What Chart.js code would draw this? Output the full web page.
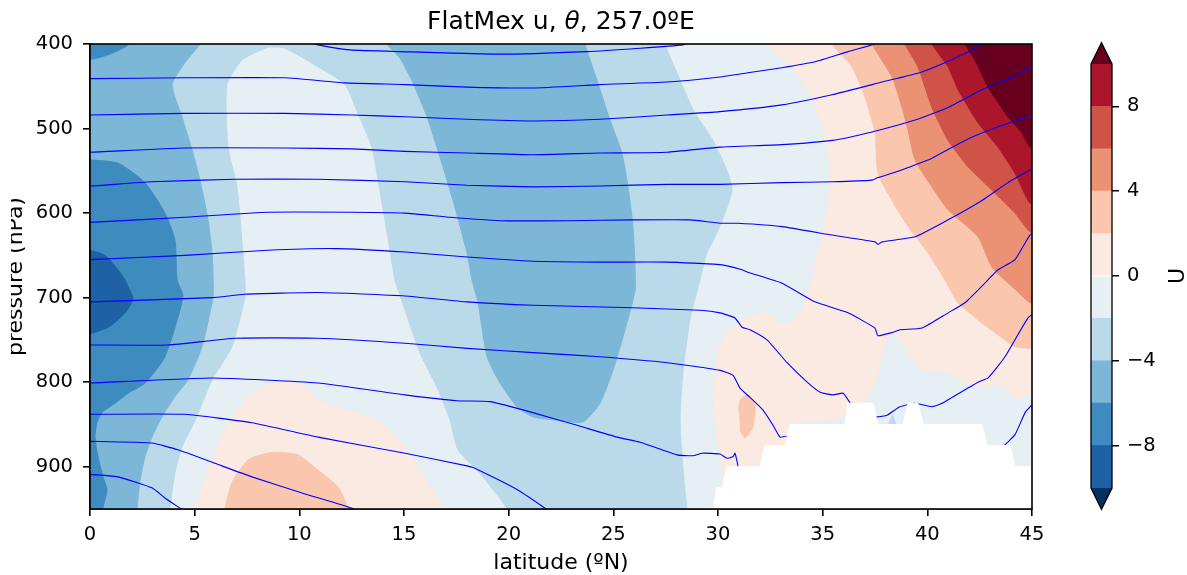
<!DOCTYPE html>
<html>
<head>
<meta charset="utf-8">
<script src="https://cdn.jsdelivr.net/npm/chart.js@4.4.0/dist/chart.umd.min.js"></script>
<style>
  body { margin: 0; background: #fff; }
  #main { position: absolute; left: 0; top: 0; }
  #cbar { position: absolute; left: 1060px; top: 0; }
</style>
</head>
<body>
<canvas id="main" width="1060" height="575"></canvas>
<canvas id="cbar" width="127" height="575"></canvas>
<script>
// axes
var latTicks = [0, 5, 10, 15, 20, 25, 30, 35, 40, 45];
var presTicks = [400, 500, 600, 700, 800, 900];
var cbarTicks = [-8, -4, 0, 4, 8];
var titleParts = ['FlatMex u, ', '\u03b8', ', 257.0\u00baE'];
var xLabel = 'latitude (\u00baN)';
var yLabel = 'pressure (hPa)';
var cbarLabel = 'U';

// u levels, RdBu_r with both ends extended
var uLevels = [-10, -8, -6, -4, -2, 0, 2, 4, 6, 8, 10];
var uColors = ['#053061', '#1e61a5', '#3d8bbf', '#7cb7d7', '#bad9e9', '#e6eff4',
               '#faeae1', '#fac7ae', '#ec9274', '#cf5347', '#ab162a', '#67001f'];

// filled contour outlines, [lat, hPa]
var uAll = [[-1, 388], [46, 388], [46, 962], [-1, 962]];
var uLtM2 = [[-1, 962], [-1, 388], [27.5, 388], [27.47, 400], [28.04, 434], [28.81, 478], [29.76, 514], [30.48, 553], [30.67, 573], [30.33, 600], [29.86, 628], [29.47, 647], [29.14, 679], [28.66, 726], [28.33, 786], [28.19, 845], [28.33, 904], [28.52, 950], [28.55, 962],
  [19.95, 962], [19.92, 950], [19.25, 927], [18.49, 904], [17.58, 880], [17.2, 845], [16.58, 806], [15.76, 765], [14.81, 697], [14.57, 679], [14.09, 608], [13.76, 561], [13.47, 522], [12.8, 482], [12.18, 448], [10.89, 427], [9.32, 405], [8.5, 404], [7.26, 419], [6.54, 448], [6.59, 522], [7.02, 569], [7.4, 679], [7.4, 699], [6.78, 758], [5.83, 797], [5.02, 845], [4.39, 877], [4.06, 907], [3.82, 949], [3.8, 962]];
var uLtM4a = [[-1, 388], [5.3, 388], [5.25, 400], [4.54, 422], [3.92, 448], [4.39, 486], [4.87, 525], [5.25, 561], [5.64, 608], [5.83, 647], [5.88, 679], [5.88, 699], [5.35, 758], [4.68, 797], [4.06, 817], [3.44, 841], [2.96, 865], [2.63, 888], [2.39, 916], [2.25, 949], [2.24, 962], [-1, 962]];
var uLtM4b = [[14.1, 388], [14.19, 400], [14.81, 417], [15.43, 446], [16.1, 486], [16.72, 534], [17.34, 585], [18.01, 647], [18.25, 679], [18.54, 706], [18.97, 770], [19.59, 801], [20.4, 829], [21.16, 841], [22.31, 845], [23.55, 847], [24.36, 825], [24.98, 786], [25.65, 730], [26.04, 691], [26.04, 667], [25.94, 616], [25.7, 569], [25.41, 529], [24.84, 490], [24.22, 443], [23.65, 400], [23.6, 388]];
var uLtM6a = [[-1, 388], [1.95, 388], [1.82, 401], [1.05, 411], [0.3, 417], [-1, 421]];
var uLtM6b = [[-1, 535], [0, 537], [1.34, 541], [2.63, 564], [3.58, 600], [4.06, 632], [4.16, 679], [4.44, 699], [3.58, 770], [2.63, 801], [1.82, 813], [1.19, 825], [0.57, 836], [0.33, 848], [0.24, 865], [0.38, 888], [0.62, 912], [0.81, 927], [0.62, 949], [0.6, 962], [-1, 962]];
var uLtM8 = [[-1, 640], [0, 644], [0.72, 650], [1.34, 667], [1.67, 679], [1.82, 687], [2.05, 700], [1.9, 710], [1.67, 718], [1.3, 727], [0.86, 735], [0.1, 742], [-1, 744]];
var uGt0a = [[5.0, 962], [5.02, 949], [5.64, 904], [6.45, 857], [7.26, 825], [8.22, 806], [8.98, 800], [10.13, 803], [10.89, 821], [12.18, 833], [13.47, 842], [14.43, 860], [15.05, 877], [15.76, 904], [16.86, 949], [16.9, 962]];
var uGt0b = [[32.2, 388], [32.25, 400], [33.53, 427], [34.49, 466], [35.11, 510], [35.35, 553], [35.21, 593], [34.78, 647], [34.49, 679], [34.16, 706], [33.68, 726], [33.06, 730], [32.25, 718], [31.43, 723], [30.67, 735], [30.3, 745], [30.0, 762], [29.76, 818], [29.95, 865], [30.24, 907], [30.33, 927], [30.4, 962], [33.9, 962],
  [33.92, 848], [34.4, 847], [35.21, 845], [35.83, 841], [36.64, 833], [37.12, 818], [37.4, 806], [37.74, 782], [37.88, 762], [38.07, 750], [38.12, 744], [38.55, 747], [39.08, 765], [39.75, 786], [40.99, 789], [41.8, 801], [42.61, 806], [43.38, 803], [43.85, 809], [44.33, 821], [44.9, 813], [45.5, 812], [46, 812], [46, 388]];
var uGt2a = [[6.45, 962], [6.45, 949], [6.78, 919], [7.55, 892], [8.69, 883], [9.94, 886], [10.89, 904], [11.85, 924], [12.32, 949], [12.35, 962]];
var uGt2b = [[31.0, 836], [31.05, 821], [31.43, 815], [31.77, 827], [31.67, 853], [31.29, 866], [31.05, 857]];
var uGt2c = [[35.4, 388], [35.45, 400], [36.4, 427], [37.02, 463], [37.5, 505], [37.64, 553], [38.31, 585], [39.08, 616], [40.03, 647], [40.84, 679], [41.47, 706], [42.61, 730], [43.71, 750], [44.19, 758], [44.9, 760], [45.5, 761], [46, 761], [46, 388]];
var uGt4 = [[37.3, 388], [37.36, 400], [38.31, 439], [38.79, 475], [39.08, 502], [39.41, 537], [40.22, 569], [40.99, 596], [42.42, 628], [43.09, 664], [44.19, 690], [44.9, 706], [45.5, 708], [46, 708], [46, 388]];
var uGt6 = [[38.9, 388], [38.93, 400], [39.55, 427], [40.22, 475], [40.99, 514], [41.94, 545], [43.09, 573], [44.19, 600], [44.9, 622], [45.5, 625], [46, 625], [46, 388]];
var uGt8 = [[40.2, 388], [40.22, 400], [40.99, 427], [41.47, 454], [42.42, 493], [43.38, 522], [44.19, 553], [44.9, 588], [45.5, 592], [46, 592], [46, 388]];
var uGt10 = [[41.8, 388], [41.8, 400], [42.28, 419], [42.9, 451], [43.85, 486], [44.52, 505], [44.9, 522], [45.5, 525], [46, 525], [46, 388]];
var uLtM2c = [[38.15, 850], [38.33, 839], [38.5, 850]];

// theta isolines, [lat, hPa]
var theta = [
  [[10.5, 398], [10.89, 401], [12.42, 407], [14.81, 409], [19.59, 412], [23.74, 409], [26.28, 405], [28.33, 401], [28.7, 398]],
  [[-0.5, 441], [0, 441], [4.54, 440], [9.32, 440], [12.18, 446], [15.05, 448], [18.01, 451], [21.16, 452], [24.36, 448], [27.57, 445], [30.1, 439], [31.43, 434], [33.06, 428], [34.63, 421], [36.21, 409], [37.5, 400], [37.8, 396]],
  [[-0.5, 484], [0, 484], [4.54, 482], [9.32, 482], [12.52, 484], [15.05, 486], [18.01, 489], [21.16, 491], [24.36, 489], [27.57, 484], [30.1, 480], [33.06, 472], [35.45, 460], [37.84, 445], [39.75, 433], [41.32, 417], [42.61, 401], [42.8, 397]],
  [[-0.5, 528], [0, 528], [4.54, 523], [9.32, 523], [12.52, 524], [15.05, 527], [18.01, 529], [21.16, 531], [24.36, 529], [27.57, 528], [30.1, 522], [33.06, 519], [35.45, 514], [37.36, 504], [39.41, 490], [40.99, 475], [42.61, 454], [43.71, 443], [44.9, 428], [45.4, 421]],
  [[-0.5, 568], [0, 568], [2.96, 563], [6.93, 560], [10.89, 560], [15.05, 563], [18.01, 567], [21.16, 569], [24.36, 568], [27.57, 566], [30.1, 566], [33.06, 564], [35.45, 563], [37.36, 561], [37.64, 558], [38.31, 553], [40.22, 535], [41.8, 514], [43.38, 498], [44.9, 485], [45.4, 481]],
  [[-0.5, 611], [0, 611], [4.54, 605], [8.5, 599], [12.52, 599], [15.05, 600], [17.2, 605], [19.59, 609], [22.79, 609], [25.94, 608], [28.66, 608], [30.1, 612], [30.96, 612], [33.06, 616], [35.45, 626], [37.5, 634], [37.64, 637], [37.84, 634], [39.41, 628], [40.99, 608], [42.61, 585], [43.85, 564], [44.9, 549], [45.4, 542]],
  [[-0.5, 655], [0, 655], [4.54, 650], [8.5, 644], [11.7, 642], [15.05, 646], [18.01, 652], [21.16, 657], [24.36, 658], [27.57, 658], [30.1, 661], [31.15, 667], [31.43, 670], [33.06, 683], [34.63, 705], [36.21, 718], [37.5, 736], [37.64, 745], [38.36, 741], [38.69, 738], [39.75, 736], [40.99, 718], [41.8, 706], [42.9, 679], [43.38, 667], [44.19, 655], [44.9, 626], [45.3, 618]],
  [[-0.5, 705], [0, 705], [5.83, 700], [7.4, 696], [10.89, 694], [15.05, 698], [18.01, 705], [21.16, 709], [25.94, 712], [29.14, 715], [30.1, 718], [30.81, 724], [31.15, 735], [31.53, 738], [32.34, 750], [33.3, 777], [34.26, 800], [34.88, 812], [35.5, 815], [35.98, 813], [36.3, 824], [36.6, 832], [37.02, 840], [37.6, 841], [38.08, 839], [38.69, 829], [39.41, 825], [40.22, 829], [40.7, 825], [41.18, 818], [42.42, 800], [42.9, 795], [43.71, 770], [44.81, 724], [45.3, 715]],
  [[-0.5, 756], [0, 756], [3.73, 756], [6.93, 748], [10.89, 748], [15.05, 754], [18.01, 760], [21.16, 765], [24.36, 770], [27.57, 777], [30.1, 786], [30.72, 792], [31.05, 807], [31.53, 818], [32.15, 833], [32.63, 851], [32.96, 865], [33.3, 864], [34, 900], [42, 900], [43.4, 885], [43.71, 874], [44.19, 862], [44.67, 836], [45, 827], [45.4, 818]],
  [[-0.5, 801], [0, 801], [5.83, 795], [10.89, 801], [15.05, 815], [17.53, 822], [19.11, 823], [21.16, 836], [23.27, 851], [25.18, 865], [26.28, 871], [28.04, 886], [28.81, 887], [29.24, 884], [30.1, 885], [30.43, 890], [30.72, 888], [30.81, 884], [30.96, 900], [31.05, 916], [31.2, 940]],
  [[-0.5, 838], [0, 838], [4.54, 838], [7.74, 848], [10.89, 865], [15.05, 884], [18.01, 899], [18.3, 901], [20.4, 927], [21.74, 949], [22.2, 957]],
  [[-0.5, 870], [0, 870], [2.96, 872], [4.2, 880], [5.97, 896], [7.74, 912], [10.13, 931], [12.52, 949], [13.0, 955]],
  [[-0.5, 909], [0, 909], [1.34, 912], [2.96, 925], [3.58, 937], [4.3, 949], [4.6, 954]]
];

// masked (below ground) area
var terrain = [[29.7, 962], [29.76, 950], [29.95, 925], [30.19, 925], [30.43, 900], [32.0, 900], [32.25, 875], [33.2, 875], [33.44, 850], [36.07, 850], [36.2, 825], [37.4, 825], [37.64, 850], [38.84, 850], [39.08, 825], [39.55, 825], [39.8, 850], [42.61, 850], [42.86, 875], [43.96, 875], [44.19, 900], [45.5, 900], [45.5, 962]];

Chart.defaults.font.family = "'DejaVu Sans', sans-serif";

function toXY(pts) {
  return pts.map(function (p) { return {x: p[0], y: p[1]}; });
}

var datasets = [];
function addShape(pts, color, tension) {
  datasets.push({
    data: toXY(pts), fill: 'shape', backgroundColor: color, borderColor: color,
    borderWidth: 1, tension: tension, pointRadius: 0
  });
}

addShape(uAll, uColors[5], 0);
addShape(uLtM2, uColors[4], 0.2);
addShape(uLtM4a, uColors[3], 0.2);
addShape(uLtM4b, uColors[3], 0.2);
addShape(uLtM6a, uColors[2], 0.2);
addShape(uLtM6b, uColors[2], 0.2);
addShape(uLtM8, uColors[1], 0.2);
addShape(uGt0a, uColors[6], 0.2);
addShape(uGt0b, uColors[6], 0.2);
addShape(uGt2a, uColors[7], 0.2);
addShape(uGt2b, uColors[7], 0.2);
addShape(uGt2c, uColors[7], 0.2);
addShape(uGt4, uColors[8], 0.2);
addShape(uGt6, uColors[9], 0.2);
addShape(uGt8, uColors[10], 0.2);
addShape(uGt10, uColors[11], 0.2);
addShape(uLtM2c, uColors[4], 0);
theta.forEach(function (line) {
  datasets.push({
    data: toXY(line), fill: false, borderColor: '#0000ff', borderWidth: 1.1,
    tension: 0.15, pointRadius: 0
  });
});
addShape(terrain, '#ffffff', 0);
// first dataset is painted last in chart.js, so flip the order
datasets.forEach(function (d, i) { d.order = datasets.length - i; });

var textPlugin = {
  id: 'texts',
  afterDatasetsDraw: function (chart) {
    var c = chart.ctx, a = chart.chartArea;
    c.save();
    c.strokeStyle = '#000';
    c.lineWidth = 1.6;
    c.strokeRect(a.left, a.top, a.right - a.left, a.bottom - a.top);
    c.restore();
  },
  afterDraw: function (chart) {
    var c = chart.ctx, a = chart.chartArea;
    var mid = (a.left + a.right) / 2;
    c.save();
    c.fillStyle = '#000';
    c.textBaseline = 'alphabetic';
    c.textAlign = 'left';
    var fonts = ['25px DejaVu Sans', 'italic 25px DejaVu Sans', '25px DejaVu Sans'];
    var total = 0, widths = [];
    titleParts.forEach(function (t, i) {
      c.font = fonts[i];
      widths.push(c.measureText(t).width);
      total += widths[i];
    });
    var x = mid - total / 2;
    titleParts.forEach(function (t, i) {
      c.font = fonts[i];
      c.fillText(t, x, 29);
      x += widths[i];
    });
    c.font = '22px DejaVu Sans';
    c.textAlign = 'center';
    c.fillText(xLabel, mid, 569);
    // y label sits partly off the left edge, as in the original
    c.beginPath();
    c.rect(11, 0, 60, 575);
    c.clip();
    c.translate(22, (a.top + a.bottom) / 2);
    c.rotate(-Math.PI / 2);
    c.fillText(yLabel, 0, 0);
    c.restore();
  }
};

new Chart(document.getElementById('main').getContext('2d'), {
  type: 'line',
  data: {datasets: datasets},
  options: {
    responsive: false,
    animation: false,
    events: [],
    layout: {padding: {left: 0, right: 28, top: 44, bottom: 0}},
    elements: {line: {capBezierPoints: false}, point: {radius: 0}},
    plugins: {legend: {display: false}, tooltip: {enabled: false}},
    scales: {
      x: {
        type: 'linear', min: 0, max: 45,
        afterBuildTicks: function (s) { s.ticks = latTicks.map(function (v) { return {value: v}; }); },
        afterFit: function (s) { s.height = 66; },
        ticks: {autoSkip: false, maxRotation: 0, padding: 7, color: '#000', font: {size: 19.5}},
        grid: {drawOnChartArea: false, tickLength: 7, color: '#000', lineWidth: 1.6},
        border: {color: '#000', width: 1.6}
      },
      y: {
        type: 'linear', min: 400, max: 950, reverse: true,
        afterBuildTicks: function (s) { s.ticks = presTicks.map(function (v) { return {value: v}; }); },
        afterFit: function (s) { s.width = 90; },
        ticks: {autoSkip: false, padding: 10, color: '#000', font: {size: 19.5}},
        grid: {drawOnChartArea: false, tickLength: 7, color: '#000', lineWidth: 1.6},
        border: {color: '#000', width: 1.6}
      }
    }
  },
  plugins: [textPlugin]
});

// colour bar
var bandSets = [];
for (var i = 0; i < uLevels.length - 1; i++) {
  bandSets.push({
    data: [[uLevels[i], uLevels[i + 1]]], backgroundColor: uColors[i + 1],
    borderWidth: 0, barPercentage: 1, categoryPercentage: 1, grouped: false
  });
}

var extendPlugin = {
  id: 'extend',
  afterDatasetsDraw: function (chart) {
    var c = chart.ctx, a = chart.chartArea, ys = chart.scales.y;
    var top = ys.getPixelForValue(uLevels[uLevels.length - 1]);
    var bot = ys.getPixelForValue(uLevels[0]);
    var ext = (bot - top) * 0.05;
    var mid = (a.left + a.right) / 2;
    c.save();
    c.fillStyle = uColors[uColors.length - 1];
    c.beginPath(); c.moveTo(a.left, top); c.lineTo(mid, top - ext); c.lineTo(a.right, top); c.closePath(); c.fill();
    c.fillStyle = uColors[0];
    c.beginPath(); c.moveTo(a.left, bot); c.lineTo(mid, bot + ext); c.lineTo(a.right, bot); c.closePath(); c.fill();
    c.strokeStyle = '#000';
    c.lineWidth = 1.3;
    c.beginPath();
    c.moveTo(a.left, top); c.lineTo(mid, top - ext); c.lineTo(a.right, top);
    c.lineTo(a.right, bot); c.lineTo(mid, bot + ext); c.lineTo(a.left, bot);
    c.closePath(); c.stroke();
    c.restore();
  },
  afterDraw: function (chart) {
    var c = chart.ctx, a = chart.chartArea;
    c.save();
    c.fillStyle = '#000';
    c.font = '22px DejaVu Sans';
    c.textAlign = 'center';
    c.textBaseline = 'alphabetic';
    c.translate(124, (a.top + a.bottom) / 2);
    c.rotate(-Math.PI / 2);
    c.fillText(cbarLabel, 0, 0);
    c.restore();
  }
};

new Chart(document.getElementById('cbar').getContext('2d'), {
  type: 'bar',
  data: {labels: ['u'], datasets: bandSets},
  options: {
    responsive: false,
    animation: false,
    events: [],
    layout: {padding: {left: 31, right: 0, top: 64, bottom: 87}},
    plugins: {legend: {display: false}, tooltip: {enabled: false}},
    scales: {
      x: {display: false},
      y: {
        position: 'right', min: uLevels[0], max: uLevels[uLevels.length - 1],
        afterBuildTicks: function (s) { s.ticks = cbarTicks.map(function (v) { return {value: v}; }); },
        afterFit: function (s) { s.width = 75; },
        ticks: {
          padding: 8, color: '#000', font: {size: 19.5},
          callback: function (v) { return v < 0 ? '\u2212' + (-v) : String(v); }
        },
        grid: {drawOnChartArea: false, tickLength: 7, color: '#000', lineWidth: 1.5},
        border: {display: false}
      }
    }
  },
  plugins: [extendPlugin]
});
</script>
</body>
</html>
